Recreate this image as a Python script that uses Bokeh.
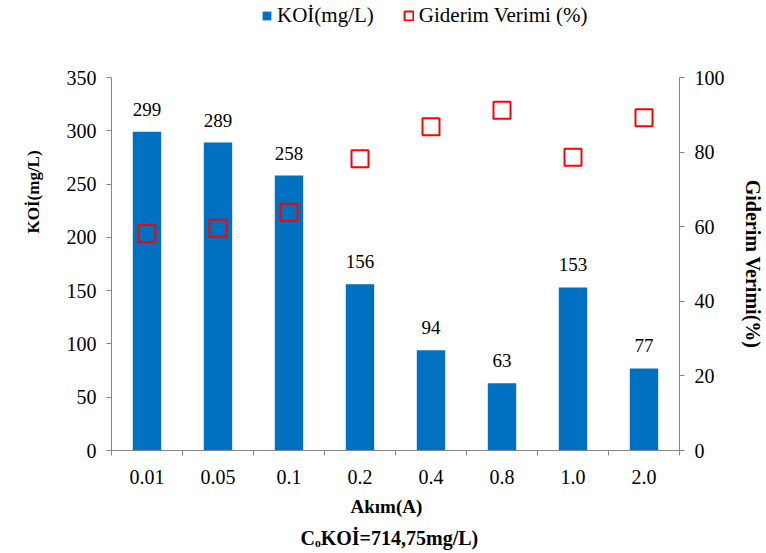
from bokeh.plotting import figure
from bokeh.layouts import column
from bokeh.models import (ColumnDataSource, Range1d, LinearAxis, FixedTicker,
                          Legend, LegendItem, Title)
from bokeh.core.properties import value
from bokeh.embed import file_html
from bokeh.resources import INLINE

# Current (A) categories, residual COD (mg/L) and removal efficiency (%)
categories = ["0.01", "0.05", "0.1", "0.2", "0.4", "0.8", "1.0", "2.0"]
koi = [299, 289, 258, 156, 94, 63, 153, 77]
verim = [58.2, 59.6, 63.9, 78.2, 86.8, 91.2, 78.6, 89.2]
left_ticks = [0, 50, 100, 150, 200, 250, 300, 350]
right_ticks = [0, 20, 40, 60, 80, 100]

FONT = "Liberation Serif"
BLUE = "#0070C0"
RED = "#FF0000"
AXIS_GREY = "#868686"

xs = [i + 0.5 for i in range(len(categories))]
src = ColumnDataSource(dict(x=xs, koi=koi, verim=verim,
                            lbl=[str(v) for v in koi]))

# ---- legend strip across the top ----
leg = figure(width=766, height=40, output_backend="svg", toolbar_location=None,
             x_range=Range1d(0, 1), y_range=Range1d(0, 1),
             min_border=0, x_axis_type=None, y_axis_type=None)
leg.outline_line_color = None
leg.xgrid.visible = False
leg.ygrid.visible = False
# key glyphs only: a single NaN point so the legend has styling to draw from
nan = float("nan")
key_bar = leg.rect(x=[nan], y=[nan], width=1, height=1, fill_color=BLUE,
                   line_color=None)
key_pct = leg.rect(x=[nan], y=[nan], width=1, height=1, fill_color=None,
                   line_color=RED, line_width=2)
legend = Legend(items=[LegendItem(label="KOİ(mg/L)", renderers=[key_bar]),
                       LegendItem(label="Giderim Verimi (%)", renderers=[key_pct])],
                orientation="horizontal", location=(150, 12),
                label_text_font=FONT, label_text_font_size="21px",
                label_text_color="black", glyph_width=11, glyph_height=11,
                spacing=29, padding=0, margin=0, border_line_color=None,
                background_fill_alpha=0, label_standoff=5)
leg.add_layout(legend, "center")

# ---- main chart ----
p = figure(width=766, height=513, output_backend="svg", toolbar_location=None,
           x_range=Range1d(0, len(categories)), y_range=Range1d(0, 350),
           min_border_left=108, min_border_right=81,
           min_border_top=37, min_border_bottom=103)
p.outline_line_color = None
p.xgrid.visible = False
p.ygrid.visible = False

p.extra_y_ranges = {"pct": Range1d(0, 100)}

p.vbar(x="x", top="koi", width=0.4, source=src, fill_color=BLUE, line_color=None)
p.scatter(x="x", y="verim", y_range_name="pct", source=src, marker="square",
          size=17, fill_color=None, line_color=RED, line_width=2)
p.text(x="x", y="koi", text="lbl", source=src, text_align="center",
       text_baseline="bottom", y_offset=-16, text_font=value(FONT),
       text_font_size="19px", text_color="black")

# x axis: category labels at centres, ticks at category boundaries
xa = p.xaxis[0]
xa.ticker = FixedTicker(ticks=xs, minor_ticks=list(range(len(categories) + 1)))
xa.major_label_overrides = {x: c for x, c in zip(xs, categories)}
xa.major_tick_out = 0
xa.major_tick_in = 0
xa.minor_tick_out = 5
xa.minor_tick_in = 0
xa.minor_tick_line_color = AXIS_GREY
xa.axis_line_color = AXIS_GREY
xa.major_label_text_font = FONT
xa.major_label_text_font_size = "20px"
xa.major_label_text_color = "black"
xa.major_label_standoff = 14


def style_y(ax):
    ax.minor_tick_line_color = None
    ax.major_tick_out = 5
    ax.major_tick_in = 0
    ax.major_tick_line_color = AXIS_GREY
    ax.axis_line_color = AXIS_GREY
    ax.major_label_text_font = FONT
    ax.major_label_text_font_size = "20px"
    ax.major_label_text_color = "black"
    ax.major_label_standoff = 10


ya = p.yaxis[0]
ya.ticker = FixedTicker(ticks=left_ticks)
style_y(ya)

ra = LinearAxis(y_range_name="pct", ticker=FixedTicker(ticks=right_ticks))
style_y(ra)
ra.axis_label = "Giderim Verimi(%)"
ra.axis_label_text_font = FONT
ra.axis_label_text_font_size = "20px"
ra.axis_label_text_font_style = "bold"
ra.axis_label_text_color = "black"
ra.axis_label_standoff = 14
p.add_layout(ra, "right")


def title(text, place, size, offset, standoff):
    p.add_layout(Title(text=text, align="left", offset=offset, standoff=standoff,
                       text_font=FONT, text_font_size=size,
                       text_font_style="bold", text_color="black"), place)


title("KOİ(mg/L)", "left", "17px", 217, 42)
title("Akım(A)", "below", "19px", 239, 15)
title("CₒKOİ=714,75mg/L)", "below", "20px", 189, 1)

open("out.html", "w").write(file_html(column(leg, p), INLINE))
